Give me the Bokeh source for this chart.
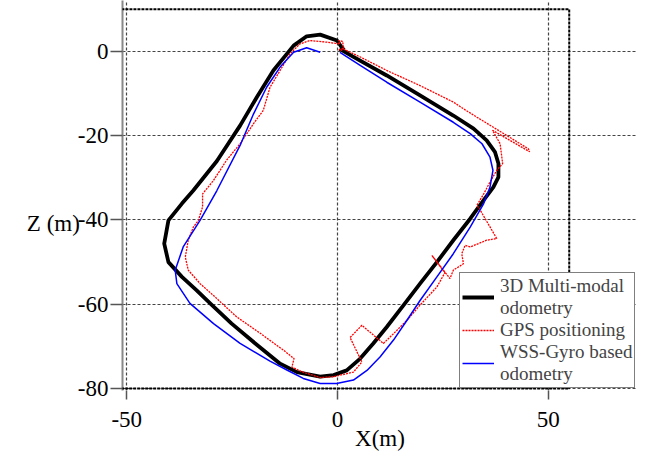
from bokeh.plotting import figure
from bokeh.models import Legend, LegendItem, FixedTicker, BoxAnnotation
from bokeh.embed import file_html
from bokeh.resources import INLINE

# 3D Multi-modal odometry (black)
mm_x = [0.5, 3.8, 11.7, 19.6, 27.5, 32.3, 35.4, 37.4, 38.2, 38.2, 37.0, 34.7, 31.5, 27.5,
        23.6, 19.6, 15.7, 11.7, 8.5, 5.4, 2.2, -0.9, -4.1, -8.1, -9.6, -13.6, -19.5, -25.1,
        -30.2, -33.4, -36.9, -40.1, -41.1, -40.1, -36.9, -34.2, -28.6, -23.1, -19.1, -15.2,
        -10.4, -7.3, -4.1, -0.1, 1.0, 1.6]
mm_z = [0.6, -1.3, -5.7, -10.4, -15.2, -18.3, -21.1, -23.9, -26.6, -29.8, -32.2, -35.3, -39.7, -44.8,
        -50.0, -55.1, -60.2, -65.4, -69.3, -72.9, -75.7, -76.8, -77.2, -76.4, -76.1, -74.1, -69.3, -64.6,
        -59.8, -56.7, -53.5, -50.0, -45.6, -40.1, -36.1, -33.0, -26.0, -17.6, -10.8, -4.5,
        1.4, 3.6, 4.0, 2.6, 1.0, 0.3]

# GPS positioning (red, dotted)
gps_x = [0.8, 1.4, 5.4, 11.7, 19.6, 27.5, 29.9, 33.1, 36.2, 45.3, 45.6, 36.8, 38.6, 39.2, 37.8,
         36.2, 34.7, 33.1, 33.9, 37.8, 35.4, 31.5, 30.3, 29.5, 29.9, 27.5, 26.7, 22.4, 25.5,
         23.6, 19.6, 16.5, 13.3, 10.9, 5.8, 3.0, 5.8, 3.8, -0.9, -4.1, -8.5, -10.8, -10.3,
         -12.8, -18.3, -23.9, -27.4, -29.0, -32.6, -35.4, -36.1, -35.4, -34.2, -33.0, -32.0,
         -32.0, -29.4, -26.3, -23.1, -21.5, -19.9, -17.6, -16.0, -13.6, -11.2, -8.9, -6.5,
         -2.5, 0.6, 0.2, 1.2, 1.5, 0.3]
gps_z = [0.2, 0.6, -1.3, -4.5, -8.1, -12.0, -13.6, -15.6, -17.5, -23.1, -23.8, -18.7, -21.9, -26.6, -28.2,
         -31.0, -33.8, -36.5, -37.7, -44.4, -44.8, -46.4, -46.0, -48.0, -50.4, -51.9, -53.9, -48.4, -52.5,
         -55.9, -60.2, -63.8, -67.0, -69.3, -65.0, -67.9, -73.7, -76.1, -77.2, -77.4, -76.0, -74.9, -72.9,
         -70.9, -66.9, -63.0, -59.8, -58.3, -55.1, -51.9, -48.8, -44.8, -41.7, -40.1, -36.9,
         -33.8, -30.6, -25.8, -21.9, -19.5, -17.1, -14.0, -8.5, -4.5, -0.5, 1.8, 2.6,
         2.2, 1.8, 2.6, 2.4, 0.8, 0.4]

# WSS-Gyro based odometry (blue)
wss_x = [0.6, 5.4, 11.7, 19.6, 27.5, 31.5, 34.3, 36.2, 36.9, 36.2, 34.7, 31.5, 27.5, 23.6,
         19.6, 16.5, 13.3, 10.1, 7.0, 3.8, -0.2, -4.1, -8.1, -12.0, -16.0, -23.1, -29.4,
         -35.0, -38.1, -38.5, -36.6, -32.6, -28.6, -23.1, -19.9, -16.8, -13.6, -10.4, -7.3, -4.1]
wss_z = [-0.2, -3.3, -7.3, -12.0, -16.8, -19.5, -21.9, -25.1, -28.2, -32.2, -36.1, -41.7, -48.0, -53.5,
         -59.1, -63.8, -68.5, -72.5, -75.7, -78.0, -78.8, -78.8, -77.6, -75.6, -73.5, -69.3, -64.6,
         -59.8, -55.1, -51.9, -46.4, -40.1, -33.0, -22.3, -14.8, -8.5, -3.7, -0.2, 0.9, -0.2]

x_ticks = [-50, 0, 50]
z_ticks = [-80, -60, -40, -20, 0]
x_tick_labels = ["-50", "0", "50"]
z_tick_labels = ["-80", "-60", "-40", "-20", "0"]

# plotted box (axes limits)
X_MIN, X_MAX = -51, 55
Z_MIN, Z_MAX = -80, 10

FONT = "Liberation Serif"

p = figure(frame_width=515, frame_height=390, x_range=(X_MIN, 71.2), y_range=(-80.47, 12.1),
           min_border_left=122, min_border_right=0, min_border_top=0, min_border_bottom=68,
           output_backend="svg", toolbar_location=None, background_fill_color="white",
           border_fill_color="white")
p.outline_line_color = None

r_mm = p.line(mm_x, mm_z, line_color="black", line_width=3.8, line_join="round")
r_gps = p.line(gps_x, gps_z, line_color="red", line_width=1.3, line_dash="2 1")
r_wss = p.line(wss_x, wss_z, line_color="blue", line_width=1.5, line_join="round")

p.xaxis.ticker = FixedTicker(ticks=x_ticks)
p.yaxis.ticker = FixedTicker(ticks=z_ticks)
p.xgrid.ticker = FixedTicker(ticks=x_ticks)
p.ygrid.ticker = FixedTicker(ticks=z_ticks)
p.xgrid.bounds = (Z_MIN, Z_MAX)
p.ygrid.bounds = (X_MIN, X_MAX)
for g in (p.xgrid, p.ygrid):
    g.grid_line_color = "#444444"
    g.grid_line_dash = "3 2"
    g.grid_line_width = 1.2
    g.grid_line_alpha = 1.0

# dashed top / right / bottom border (left side is the solid grey y axis line)
box = BoxAnnotation(left=X_MIN - 5, right=X_MAX, bottom=Z_MIN, top=Z_MAX,
                    fill_alpha=0, line_color="black", line_alpha=1.0,
                    line_dash="3 1", line_width=2)
p.add_layout(box)

for ax in (p.xaxis, p.yaxis):
    ax.major_label_text_font = FONT
    ax.major_label_text_font_size = "23px"
    ax.major_label_text_color = "black"
    ax.axis_label_text_font = FONT
    ax.axis_label_text_font_size = "23px"
    ax.axis_label_text_font_style = "normal"
    ax.axis_label_text_color = "black"
    ax.minor_tick_line_color = None
    ax.major_tick_in = 0
    ax.major_tick_line_color = "#555555"
    ax.major_tick_line_width = 1.5

p.xaxis.major_label_overrides = dict(zip(x_ticks, x_tick_labels))
p.yaxis.major_label_overrides = dict(zip(z_ticks, z_tick_labels))

p.xaxis.axis_label = "X(m)"
p.xaxis.axis_line_color = None
p.xaxis.major_tick_out = 9
p.xaxis.major_label_standoff = 12
p.xaxis.axis_label_standoff = -4

p.yaxis.axis_label = "\nZ (m)"
p.yaxis.axis_label_text_line_height = 2.2
p.yaxis.axis_label_orientation = "horizontal"
p.yaxis.axis_label_standoff = -5
p.yaxis.major_tick_out = 12
p.yaxis.major_label_standoff = 2
p.yaxis.axis_line_color = "#888888"
p.yaxis.axis_line_width = 2

legend = Legend(items=[
    LegendItem(label="3D Multi-modal\nodometry", renderers=[r_mm]),
    LegendItem(label="GPS positioning", renderers=[r_gps]),
    LegendItem(label="WSS-Gyro based\nodometry", renderers=[r_wss]),
], location=(337, 2))
legend.label_text_font = FONT
legend.label_text_font_size = "19px"
legend.label_text_line_height = 1.05
legend.glyph_width = 32
legend.label_standoff = 6
legend.padding = 2
legend.margin = 0
legend.spacing = 0
legend.border_line_color = "black"
legend.border_line_width = 1.5
legend.background_fill_color = "white"
legend.background_fill_alpha = 1.0
p.add_layout(legend, "center")

open("out.html", "w").write(file_html(p, INLINE))
